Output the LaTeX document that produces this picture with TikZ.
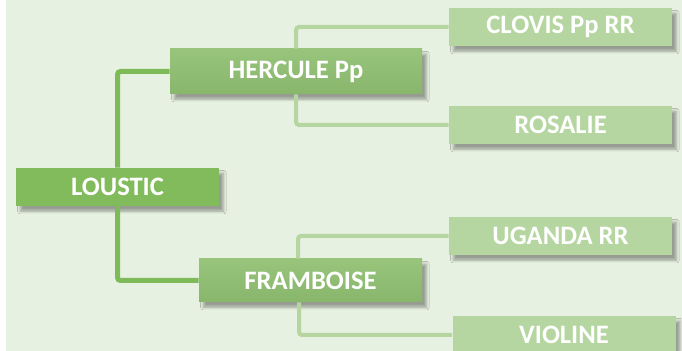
\documentclass[tikz,border=0pt]{standalone}
\usepackage{fontspec}
\setsansfont{Carlito}
\usepackage{tikz}
\usetikzlibrary{positioning,calc,shadows.blur}
\definecolor{bgc}{HTML}{E7F1E1}
\definecolor{rootc}{HTML}{82BB5B}
\definecolor{midtop}{HTML}{98C47C}
\definecolor{midbot}{HTML}{88B66B}
\definecolor{leafc}{HTML}{B5D6A0}
\definecolor{darklinec}{HTML}{7EBA57}
\definecolor{lightlinec}{HTML}{B5D6A0}
\tikzset{
  box/.style={inner sep=0pt, text=white,
    font=\sffamily\bfseries\fontsize{13.3}{16}\selectfont,
    blur shadow={shadow xshift=2.2pt, shadow yshift=-2.6pt, shadow blur radius=1.4pt, shadow opacity=35}},
  rootbox/.style={box, fill=rootc, minimum width=101.5pt, minimum height=19pt},
  midbox/.style={box, top color=midtop, bottom color=midbot, minimum width=#1, minimum height=22.5pt},
  leafbox/.style={box, fill=leafc, minimum width=111.5pt, minimum height=19pt},
  darkline/.style={draw=darklinec, line width=2.5pt, rounded corners=1.5pt},
  lightline/.style={draw=lightlinec, line width=2pt, rounded corners=1.5pt}
}

\begin{document}
\begin{tikzpicture}[x=0.5pt,y=-0.5pt]
  \useasboundingbox (0,0) rectangle (682,351);
  \fill[bgc] (6,0) rectangle (682,351);

  % family tree
  \node[rootbox] (loustic) at (117.5,187) {LOUSTIC};
  \node[midbox=126pt] (hercule) at (296,71.5) {HERCULE Pp};
  \node[midbox=111.5pt, minimum height=21.5pt] (framboise) at (310.5,280.5) {FRAMBOISE};
  \node[leafbox] (clovis) at (560.5,27) {CLOVIS Pp RR};
  \node[leafbox] (rosalie) at (560.5,125) {ROSALIE};
  \node[leafbox] (uganda) at (560.5,236) {UGANDA RR};
  \node[leafbox] (violine) at (564,335) {VIOLINE};

  % connectors
  \draw[darkline] (loustic.north) |- (hercule.west);
  \draw[darkline] (loustic.south) |- (framboise.west);
  \draw[lightline] (hercule.north) |- (clovis.west);
  \draw[lightline] (hercule.south) |- (rosalie.west);
  \draw[lightline] ($(framboise.north -| hercule.north)+(2,0)$) |- (uganda.west);
  \draw[lightline] ($(framboise.south -| hercule.south)+(3,0)$) |- (violine.west);
\end{tikzpicture}
\end{document}
